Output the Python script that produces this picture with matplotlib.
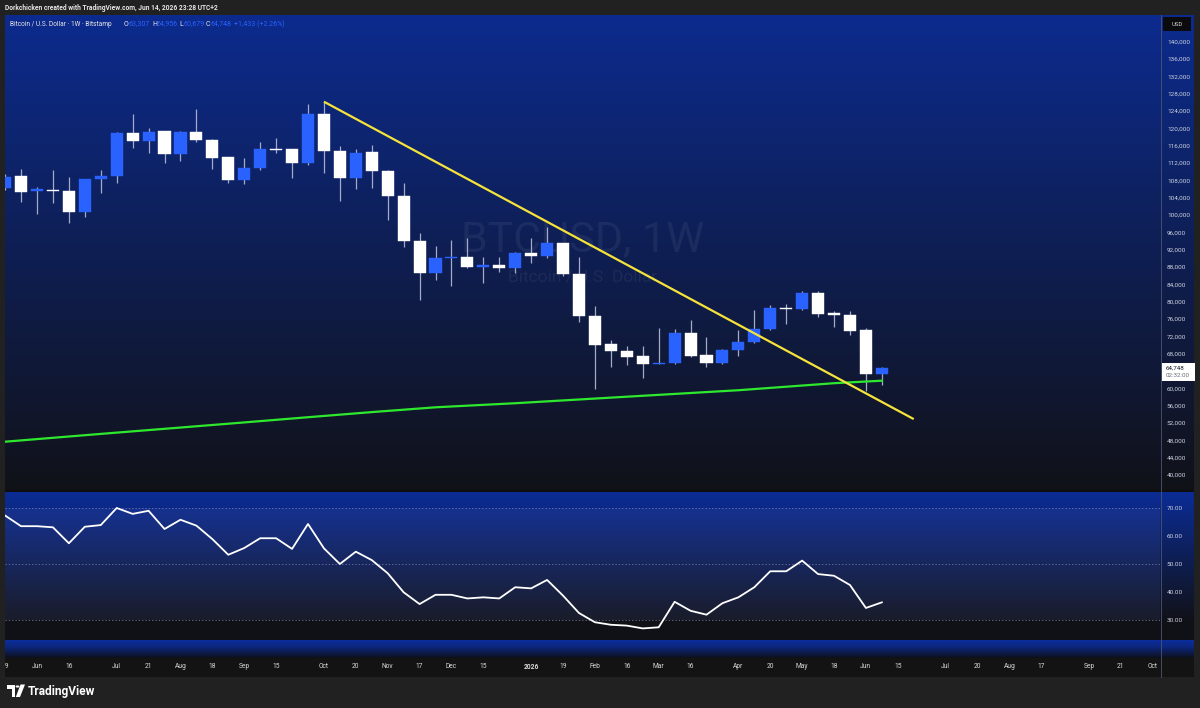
import numpy as np
import pandas as pd
import matplotlib
matplotlib.use("Agg")
import matplotlib.pyplot as plt
import matplotlib.dates as mdates
from matplotlib.patches import Rectangle, Circle, Polygon
from matplotlib.lines import Line2D
from matplotlib.transforms import blended_transform_factory

plt.rcParams['font.family'] = ['Roboto', 'DejaVu Sans']

# Weekly candles BTC/USD (Bitstamp), weeks starting 2025-05-19
weeks = pd.date_range('2025-05-19', periods=56, freq='7D')

opens = [106300, 109000, 105540, 105730, 105540, 100760, 108240, 109000, 119000, 117080,
         119390, 114010, 119230, 117310, 113320, 108080, 110920, 115240, 115170, 112070,
         123310, 114840, 108470, 114470, 110270, 104460, 94070, 86550, 90080, 90240,
         87930, 88460, 87700, 91300, 90610, 93470, 86320, 76760, 70160, 68610,
         67460, 65540, 65770, 72700, 67690, 65770, 68840, 70580, 73620, 78470,
         78240, 81930, 77270, 76850, 73460, 63307]
highs = [109470, 110620, 106530, 110390, 108700, 108300, 110390, 119160, 123240, 120010,
         119500, 119390, 124470, 117430, 113390, 113230, 116780, 117840, 115240, 125620,
         126150, 115930, 115170, 116160, 110390, 107320, 95780, 92920, 94230, 94620,
         90240, 90380, 91460, 94620, 97160, 93540, 90240, 79070, 71150, 69770,
         69840, 73850, 73690, 75770, 71780, 68960, 73460, 78120, 79230, 79390,
         82530, 82530, 77910, 77910, 73850, 64956]
lows = [105770, 102930, 100230, 102700, 98090, 99470, 105010, 107320, 115540, 114240,
        111930, 112470, 116780, 110550, 107320, 107160, 110390, 114240, 108470, 111540,
        109630, 103300, 105930, 106160, 98850, 92690, 80380, 85000, 83620, 87700,
        84240, 86920, 86690, 88990, 90010, 85920, 75380, 59770, 64850, 65380,
        62310, 65500, 65610, 67300, 64850, 65540, 67460, 70460, 73460, 74850,
        78080, 76530, 74080, 72240, 59450, 60679]
closes = [108840, 105380, 105890, 105590, 100760, 108240, 109000, 119000, 117080, 119230,
          114010, 119230, 117310, 113230, 108080, 110920, 115170, 115100, 111930, 123310,
          114840, 108470, 114380, 110230, 104460, 94070, 86550, 90150, 90240, 87930,
          88460, 87700, 91300, 90610, 93470, 86320, 76760, 70000, 68610, 67300,
          65540, 65910, 72700, 67530, 65770, 68840, 70620, 73620, 78540, 78240,
          81930, 77150, 76850, 73300, 63315, 64748]

rsi_values = [67.3, 63.5, 63.5, 63.1, 57.4, 63.3, 63.9, 70.0, 67.9, 69.0,
              62.5, 65.8, 63.7, 58.9, 53.3, 55.7, 59.2, 59.2, 55.4, 64.3,
              55.6, 50.0, 54.4, 51.4, 46.7, 39.9, 35.7, 39.0, 39.0, 37.7,
              38.1, 37.7, 41.7, 41.3, 44.3, 38.7, 32.5, 29.2, 28.3, 28.0,
              27.0, 27.4, 36.5, 33.3, 31.9, 36.0, 38.1, 41.7, 47.4, 47.4,
              51.2, 46.4, 45.8, 42.5, 34.3, 36.3]

# 200-week moving average, read at a few weeks
ma_dates = ['2025-05-19', '2025-06-30', '2025-08-25', '2025-09-29', '2025-10-27',
            '2025-11-24', '2025-12-29', '2026-02-09', '2026-04-06', '2026-05-18', '2026-06-08']
ma_values = [47680, 49480, 51830, 53330, 54510, 55620, 56560, 57850, 59560, 61180, 61760]

# trend line drawn from the top
trend_dates = ['2025-10-06', '2026-06-22']
trend_values = [126150, 52900]

price_ticks = [p for p in range(40000, 140001, 4000) if p != 64000]
rsi_ticks = [30, 40, 50, 60, 70]
time_labels = [('2025-05-19', '19'), ('2025-06-02', 'Jun'), ('2025-06-16', '16'),
               ('2025-07-07', 'Jul'), ('2025-07-21', '21'), ('2025-08-04', 'Aug'),
               ('2025-08-18', '18'), ('2025-09-01', 'Sep'), ('2025-09-15', '15'),
               ('2025-10-06', 'Oct'), ('2025-10-20', '20'), ('2025-11-03', 'Nov'),
               ('2025-11-17', '17'), ('2025-12-01', 'Dec'), ('2025-12-15', '15'),
               ('2026-01-05', '2026'), ('2026-01-19', '19'), ('2026-02-02', 'Feb'),
               ('2026-02-16', '16'), ('2026-03-02', 'Mar'), ('2026-03-16', '16'),
               ('2026-04-06', 'Apr'), ('2026-04-20', '20'), ('2026-05-04', 'May'),
               ('2026-05-18', '18'), ('2026-06-01', 'Jun'), ('2026-06-15', '15'),
               ('2026-07-06', 'Jul'), ('2026-07-20', '20'), ('2026-08-03', 'Aug'),
               ('2026-08-17', '17'), ('2026-09-07', 'Sep'), ('2026-09-21', '21'),
               ('2026-10-05', 'Oct')]

last_price = closes[-1]

W, H = 1200, 708
fig = plt.figure(figsize=(W / 100, H / 100), dpi=100, facecolor='#212121')


def box(x0, y0, x1, y1):
    return [x0 / W, 1 - y1 / H, (x1 - x0) / W, (y1 - y0) / H]


def fx(x):
    return x / W


def fy(y):
    return 1 - y / H


def gradient_axes(rect, stops):
    a = fig.add_axes(rect)
    t = np.linspace(0, 1, 400)
    pos = [s[0] for s in stops]
    cols = np.array([s[1] for s in stops]) / 255
    img = np.stack([np.interp(t, pos, cols[:, k]) for k in range(3)], axis=-1)
    a.imshow(img[:, None, :], aspect='auto', extent=[0, 1, 0, 1], interpolation='bilinear')
    a.axis('off')
    return a


# backgrounds
gradient_axes(box(5, 15, 1194, 490), [(0, (12, 43, 142)), (1, (17, 18, 24))])
gradient_axes(box(5, 492, 1194, 640), [(0, (11, 44, 150)), (0.865, (17, 18, 24)), (1, (16, 17, 22))])
gradient_axes(box(5, 640, 1194, 658), [(0, (12, 46, 155)), (0.35, (12, 40, 130)), (1, (14, 16, 26))])
fig.add_artist(Rectangle((fx(5), fy(677)), fx(1189), 19 / H, transform=fig.transFigure,
                         color='#131313', lw=0, zorder=-1))
fig.add_artist(Rectangle((fx(5), fy(492)), fx(1189), 2 / H, transform=fig.transFigure,
                         color='#0e0e0e', lw=0, zorder=-1))

x = mdates.date2num(weeks)
d0 = mdates.date2num(pd.Timestamp('2025-06-02'))
xl = (d0 - 2.008 * 7, d0 + 70.45 * 7)

# main pane
ax = fig.add_axes(box(5, 15, 1160, 490))
ax.set_facecolor('none')
ax.set_xlim(xl)
ax.set_ylim(36532, 146162)
for s in ax.spines.values():
    s.set_visible(False)
ax.tick_params(axis='x', bottom=False, labelbottom=False)
ax.yaxis.tick_right()
ax.set_yticks(price_ticks)
ax.set_yticklabels([f'{p:,}' for p in price_ticks])
ax.tick_params(axis='y', length=0, pad=5, labelsize=4.6, labelcolor='#ccd1e0')

ax.text(0.5, 0.526, 'BTCUSD, 1W', transform=ax.transAxes, ha='center', va='center',
        fontsize=31, color='white', alpha=0.06, zorder=0)
ax.text(0.5, 0.448, 'Bitcoin / U.S. Dollar', transform=ax.transAxes, ha='center',
        va='center', fontsize=12.5, color='white', alpha=0.06, zorder=0)

o = np.array(opens, float)
c = np.array(closes, float)
up = c >= o
body_col = np.where(up, '#2962ff', '#ffffff')
h = c - o
h = np.where(np.abs(h) < 260, np.where(up, 260, -260), h)
ax.vlines(x, lows, highs, colors='#a3abc8', lw=0.9, zorder=2)
ax.bar(x, h, bottom=o, width=5.3, color=body_col, edgecolor=body_col, lw=0.3, zorder=3)

ax.plot(mdates.date2num(pd.to_datetime(ma_dates)), ma_values, color='#2ee82e', lw=1.6, zorder=4)
ax.plot(mdates.date2num(pd.to_datetime(trend_dates)), trend_values, color='#f5e33b', lw=1.6,
        zorder=5, solid_capstyle='butt')

# last price label
bt = blended_transform_factory(ax.transAxes, ax.transData)
ax.add_patch(Rectangle((1.0015, last_price - 3050), 0.0286, 4100, transform=bt,
                       facecolor='white', edgecolor='none', clip_on=False, zorder=6))
ax.text(1.005, last_price, f'{last_price:,}', transform=bt, ha='left', va='center',
        fontsize=4.5, color='#131722', clip_on=False, zorder=7)
ax.text(1.005, last_price - 1900, '02:32:00', transform=bt, ha='left', va='center',
        fontsize=4.5, color='#6a6d78', clip_on=False, zorder=7)

# RSI pane
rx = fig.add_axes(box(5, 492, 1160, 640))
rx.set_facecolor('none')
rx.set_xlim(xl)
rx.set_ylim(22.86, 75.71)
for s in rx.spines.values():
    s.set_visible(False)
rx.tick_params(axis='x', bottom=False, labelbottom=False)
rx.yaxis.tick_right()
rx.set_yticks(rsi_ticks)
rx.set_yticklabels([f'{v:.2f}' for v in rsi_ticks])
rx.tick_params(axis='y', length=0, pad=5, labelsize=4.6, labelcolor='#ccd1e0')
rx.axhspan(30, 70, color=(0.55, 0.6, 1.0), alpha=0.08, lw=0)
for lv in (70, 50, 30):
    rx.axhline(lv, color='#8890b8', lw=0.6, ls=(0, (1.5, 2.5)), alpha=0.8)
rx.plot(x, rsi_values, color='white', lw=1.3)

# time axis
tx = fig.add_axes(box(5, 658, 1160, 677))
tx.set_facecolor('none')
tx.set_xlim(xl)
tx.set_ylim(0, 1)
tx.axis('off')
for d, lab in time_labels:
    tx.text(mdates.date2num(pd.Timestamp(d)), 0.55, lab, ha='center', va='center',
            fontsize=4.8, color='#dadada', clip_on=True,
            fontweight='bold' if lab == '2026' else 'normal')

# price scale separator
fig.add_artist(Line2D([fx(1160.5)] * 2, [fy(15), fy(677)], color='#4d5575', lw=0.6))

# USD box
fig.add_artist(Rectangle((fx(1163), fy(31)), 28 / W, 14 / H, transform=fig.transFigure,
                         facecolor='#0b0b0d', edgecolor='none'))
fig.text(fx(1177), fy(24), 'USD', ha='center', va='center', fontsize=4.3, color='#d8d8d8')

# header texts
fig.text(fx(5), fy(8), 'Dorkchicken created with TradingView.com, Jun 14, 2026 23:28 UTC+2',
         ha='left', va='center', fontsize=4.8, color='#e6e6e6', fontweight='bold')
fig.text(fx(10), fy(24), 'Bitcoin / U.S. Dollar · 1W · Bitstamp', ha='left', va='center',
         fontsize=4.7, color='#e6e6e6')
hdr = [(124, 'O', f'{opens[-1]:,}'), (152, 'H', f'{highs[-1]:,}'),
       (179, 'L', f'{lows[-1]:,}'), (206, 'C', f'{closes[-1]:,}')]
for px, k, v in hdr:
    fig.text(fx(px), fy(24), k, ha='left', va='center', fontsize=5.0, color='#e6e6e6')
    fig.text(fx(px + 4.5), fy(24), v, ha='left', va='center', fontsize=5.0, color='#2962ff')
chg = closes[-1] - closes[-2]
fig.text(fx(234), fy(24), f'+{chg:,} (+{chg / closes[-2] * 100:.2f}%)', ha='left',
         va='center', fontsize=5.0, color='#2962ff')

# TradingView footer logo
fig.add_artist(Polygon([(fx(7), fy(684.5)), (fx(15), fy(684.5)), (fx(15), fy(697)),
                        (fx(11.5), fy(697)), (fx(11.5), fy(688.5)), (fx(7), fy(688.5))],
                       closed=True, transform=fig.transFigure, color='white', lw=0))
fig.add_artist(Circle((fx(17.5), fy(686.5)), 1.9 / W, transform=fig.transFigure,
                      color='white', lw=0))
fig.add_artist(Polygon([(fx(20.5), fy(684.5)), (fx(25), fy(684.5)), (fx(20), fy(697)),
                        (fx(15.8), fy(697))], closed=True, transform=fig.transFigure,
                       color='white', lw=0))
fig.text(fx(28), fy(691), 'TradingView', ha='left', va='center', fontsize=8.6,
         color='white', fontweight='semibold')

fig.savefig('out.png', dpi=100, facecolor=fig.get_facecolor())
